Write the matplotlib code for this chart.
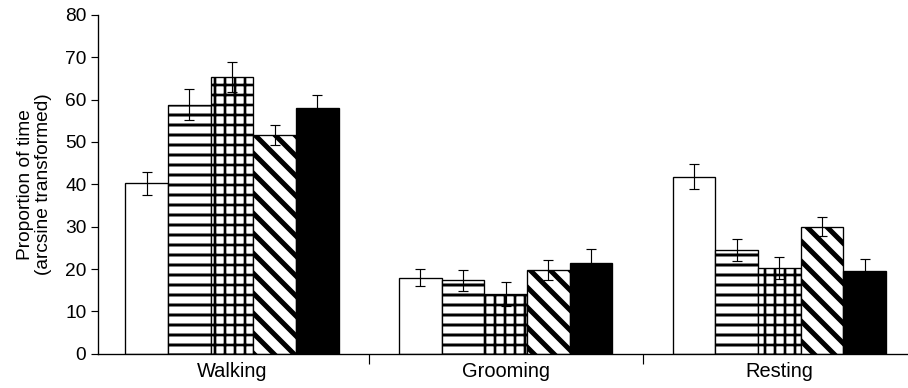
import numpy as np
import matplotlib
matplotlib.use("Agg")
import matplotlib.pyplot as plt

plt.rcParams['font.family'] = ['Liberation Sans', 'DejaVu Sans']

behaviours = ['Walking', 'Grooming', 'Resting']
# one list per treatment (white, horizontal, grid, diagonal, black)
white = [40.2, 18.0, 41.8]
white_err = [2.7, 2.1, 3.0]
horiz = [58.8, 17.4, 24.5]
horiz_err = [3.7, 2.5, 2.6]
grid = [65.3, 14.2, 20.3]
grid_err = [3.6, 2.8, 2.6]
diag = [51.7, 19.8, 30.0]
diag_err = [2.4, 2.4, 2.3]
black = [58.0, 21.5, 19.6]
black_err = [3.1, 3.3, 2.8]

series = [white, horiz, grid, diag, black]
errors = [white_err, horiz_err, grid_err, diag_err, black_err]
fills = ['white', 'white', 'white', 'white', 'black']
hatches = [None, '--', '++', '\\\\', None]
hatch_lw = [1.0, 1.8, 1.6, 3.0, 1.0]

fig = plt.figure(figsize=(908 / 120, 388 / 120), dpi=120)
ax = fig.add_axes([98 / 908, 0.088, 810 / 908, 0.874])

x = np.arange(len(behaviours))
w = 0.156
for i, (vals, errs) in enumerate(zip(series, errors)):
    with plt.rc_context({'hatch.linewidth': hatch_lw[i]}):
        ax.bar(x + (i - 2) * w, vals, width=w, color=fills[i], edgecolor='black',
               hatch=hatches[i], linewidth=0.8, zorder=2)
    ax.errorbar(x + (i - 2) * w, vals, yerr=errs, fmt='none', ecolor='black',
                elinewidth=0.7, capsize=3, capthick=0.7, zorder=3)

ax.set_xlim(-0.49, 2.47)
ax.set_ylim(0, 80)
ax.set_yticks(range(0, 81, 10))
ax.set_xticks([0.5, 1.5])
ax.set_xticklabels([])
ax.set_xticks(x, minor=True)
ax.set_xticklabels(behaviours, minor=True)
ax.tick_params(axis='x', which='minor', length=0, pad=5, labelsize=12)
ax.tick_params(axis='x', which='major', length=6, width=0.7, direction='out')
ax.tick_params(axis='y', length=4, width=0.7, direction='out', pad=3, labelsize=11.5)
for s in ['top', 'right']:
    ax.spines[s].set_visible(False)
for s in ['left', 'bottom']:
    ax.spines[s].set_linewidth(0.8)

ax.set_ylabel('Proportion of time\n(arcsine transformed)', fontsize=11.5,
              linespacing=1.05)
ax.yaxis.set_label_coords(-46 / 810, 0.5)

fig.savefig('out.png', dpi=120)
